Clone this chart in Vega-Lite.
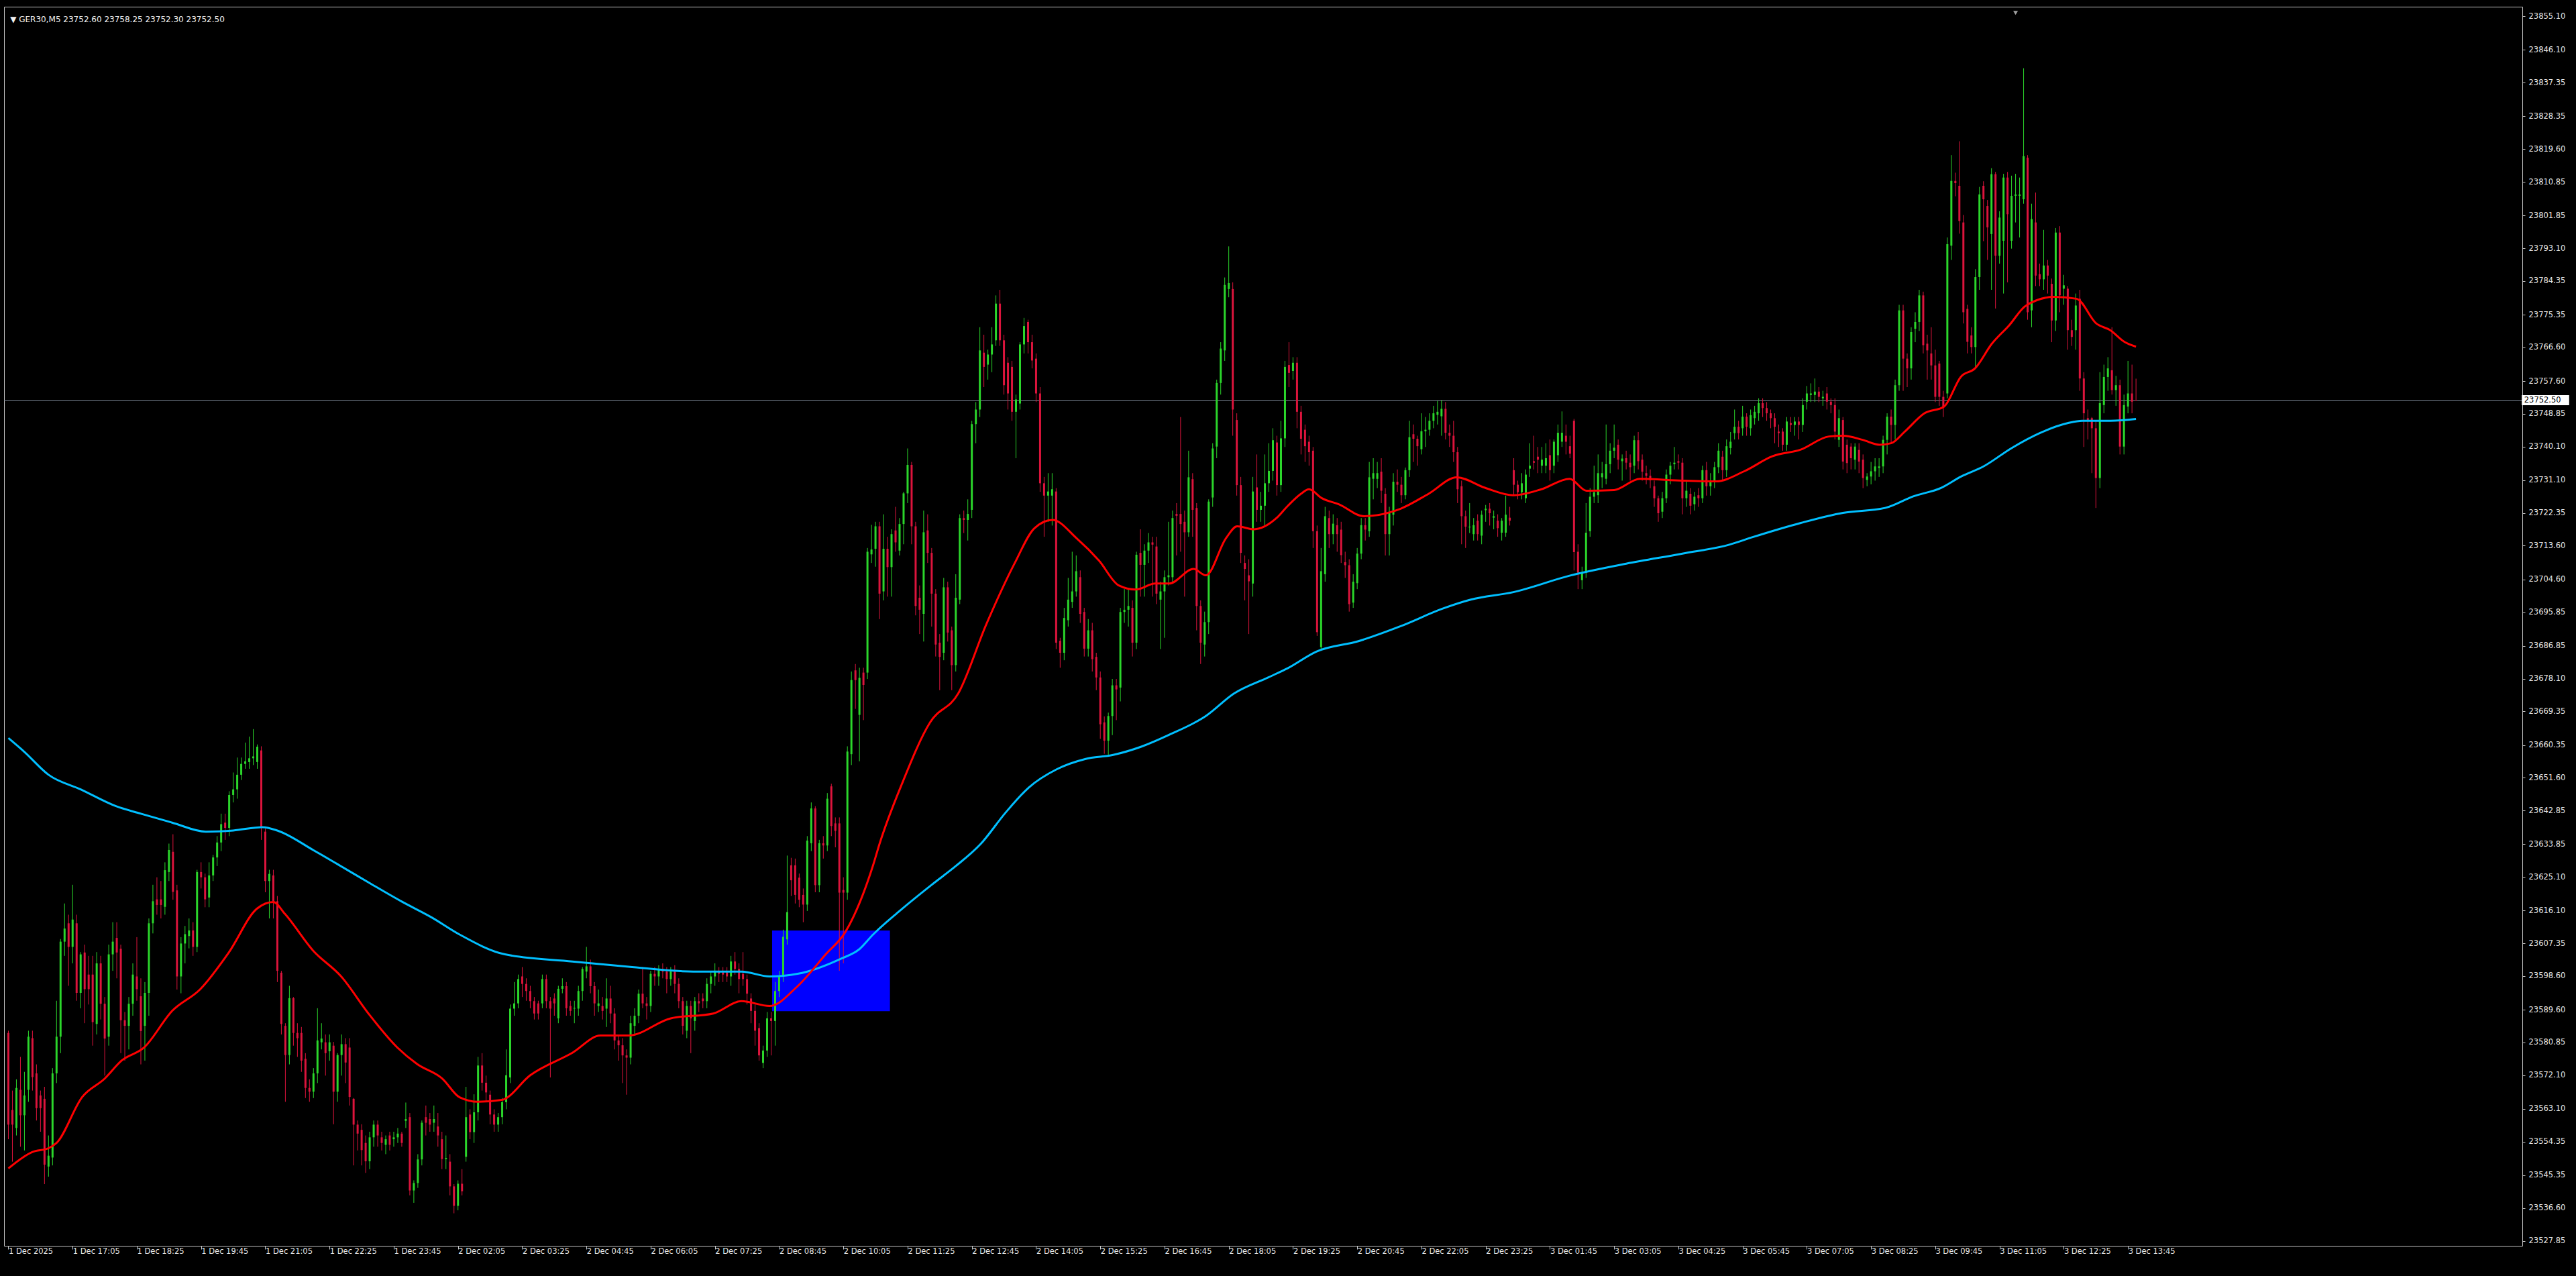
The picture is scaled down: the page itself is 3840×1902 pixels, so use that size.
{
"$schema":"https://vega.github.io/schema/vega-lite/v6.json",
"width":3754,"height":1847,
"autosize":{"type":"none"},
"padding":{"left":6,"top":10,"right":80,"bottom":45},
"background":"#000000",
"resolve":{"axis":{"x":"independent","y":"independent"}},
"config":{"view":{"fill":"#000000","stroke":"#C8C8C8","strokeWidth":1},"font":"DejaVu Sans",
"axis":{"grid":false,"domain":false,"title":null,"labelFont":"DejaVu Sans","labelFontSize":11.5,"labelColor":"#E6E6E6","tickColor":"#C8C8C8","labelOverlap":false,"labelFlush":false,"labelBound":false}},
"datasets":{
"bars":[
{"i":0,"o":23583.4,"h":23584,"l":23555,"c":23558.9},{"i":1,"o":23562.8,"h":23568,"l":23549,"c":23558.9},{"i":2,"o":23558,"h":23571,"l":23556,"c":23568.7},{"i":3,"o":23568.2,"h":23577,"l":23553,"c":23561.4},{"i":4,"o":23561.4,"h":23573,"l":23552,"c":23566.7},{"i":5,"o":23568.2,"h":23584,"l":23565,"c":23582.4},{"i":6,"o":23582,"h":23584,"l":23568,"c":23571.6},{"i":7,"o":23572.6,"h":23575,"l":23560,"c":23563.3},{"i":8,"o":23566.7,"h":23568,"l":23557,"c":23563.3},{"i":9,"o":23565.8,"h":23569,"l":23543,"c":23548.2},
{"i":10,"o":23547.7,"h":23556,"l":23545,"c":23550.6},{"i":11,"o":23550.1,"h":23574,"l":23548,"c":23572.6},{"i":12,"o":23572.6,"h":23592,"l":23570,"c":23582.4},{"i":13,"o":23582.4,"h":23608.5,"l":23578,"c":23607.8},{"i":14,"o":23607.8,"h":23618,"l":23604,"c":23611.3},{"i":15,"o":23612.7,"h":23615,"l":23596,"c":23606.4},{"i":16,"o":23606.4,"h":23623,"l":23602,"c":23613.7},{"i":17,"o":23612.7,"h":23615,"l":23592,"c":23594.1},{"i":18,"o":23594.1,"h":23605,"l":23590,"c":23604.4},{"i":19,"o":23604.9,"h":23607,"l":23586,"c":23595.1},
{"i":20,"o":23599,"h":23604,"l":23591,"c":23595.1},{"i":21,"o":23599,"h":23604,"l":23580,"c":23586.3},{"i":22,"o":23585.8,"h":23605,"l":23583,"c":23602},{"i":23,"o":23602,"h":23604,"l":23587,"c":23591.2},{"i":24,"o":23591.2,"h":23593,"l":23572,"c":23581.9},{"i":25,"o":23582.4,"h":23607,"l":23580,"c":23604.4},{"i":26,"o":23604.4,"h":23613,"l":23600,"c":23607.8},{"i":27,"o":23608.8,"h":23613,"l":23598,"c":23604.9},{"i":28,"o":23605.9,"h":23607,"l":23578,"c":23586.8},{"i":29,"o":23586.8,"h":23589,"l":23576,"c":23585.3},
{"i":30,"o":23585.3,"h":23593,"l":23579,"c":23591.2},{"i":31,"o":23591.2,"h":23602,"l":23588,"c":23599},{"i":32,"o":23598.5,"h":23609,"l":23592,"c":23595.1},{"i":33,"o":23593.2,"h":23598,"l":23575,"c":23583.9},{"i":34,"o":23585.3,"h":23597,"l":23576,"c":23594.1},{"i":35,"o":23594.1,"h":23614,"l":23588,"c":23612.7},{"i":36,"o":23612.7,"h":23623,"l":23610,"c":23618.6},{"i":37,"o":23619.1,"h":23625,"l":23615,"c":23617.6},{"i":38,"o":23619.1,"h":23624,"l":23614,"c":23617.6},{"i":39,"o":23617.1,"h":23629,"l":23615,"c":23626.9},
{"i":40,"o":23626.4,"h":23634,"l":23624,"c":23632.3},{"i":41,"o":23631.8,"h":23636.5,"l":23619,"c":23621.1},{"i":42,"o":23621.5,"h":23623,"l":23595,"c":23598.5},{"i":43,"o":23598.5,"h":23609,"l":23594,"c":23607.3},{"i":44,"o":23607.3,"h":23612,"l":23602,"c":23609.8},{"i":45,"o":23609.3,"h":23614,"l":23606,"c":23610.8},{"i":46,"o":23610.8,"h":23613,"l":23604,"c":23606.4},{"i":47,"o":23606.4,"h":23627,"l":23605,"c":23626.4},{"i":48,"o":23626.4,"h":23629,"l":23622,"c":23625},{"i":49,"o":23625,"h":23626,"l":23617,"c":23619.1},
{"i":50,"o":23619.6,"h":23629,"l":23617,"c":23625.5},{"i":51,"o":23625.5,"h":23631,"l":23624,"c":23630.3},{"i":52,"o":23630.3,"h":23636,"l":23628,"c":23634.3},{"i":53,"o":23634.3,"h":23642,"l":23632,"c":23639.2},{"i":54,"o":23639.6,"h":23642,"l":23635,"c":23638.2},{"i":55,"o":23638.2,"h":23648,"l":23636,"c":23647},{"i":56,"o":23647,"h":23653,"l":23645,"c":23648.5},{"i":57,"o":23648.5,"h":23657,"l":23646,"c":23652.4},{"i":58,"o":23652.4,"h":23657,"l":23651,"c":23655.3},{"i":59,"o":23655.3,"h":23661,"l":23654,"c":23656},
{"i":60,"o":23655.8,"h":23662.6,"l":23654,"c":23656.8},{"i":61,"o":23656.8,"h":23664.6,"l":23655,"c":23657.3},{"i":62,"o":23655.8,"h":23660.5,"l":23654,"c":23659.9},{"i":63,"o":23658.9,"h":23660,"l":23635,"c":23638.2},{"i":64,"o":23637.2,"h":23638,"l":23621,"c":23624},{"i":65,"o":23624,"h":23627,"l":23614,"c":23625.9},{"i":66,"o":23625.5,"h":23627,"l":23614,"c":23618.6},{"i":67,"o":23618.6,"h":23620,"l":23597,"c":23600},{"i":68,"o":23599.5,"h":23600,"l":23583,"c":23585.8},{"i":69,"o":23585.3,"h":23586,"l":23565,"c":23577.5},
{"i":70,"o":23577.5,"h":23596,"l":23575,"c":23592.7},{"i":71,"o":23592.7,"h":23593,"l":23580,"c":23583.4},{"i":72,"o":23583.4,"h":23586,"l":23577,"c":23582},{"i":73,"o":23583.4,"h":23585,"l":23573,"c":23576},{"i":74,"o":23576.5,"h":23578,"l":23566,"c":23568.7},{"i":75,"o":23568.7,"h":23571,"l":23565,"c":23567.7},{"i":76,"o":23567.7,"h":23574,"l":23566,"c":23572.6},{"i":77,"o":23572.6,"h":23590,"l":23570,"c":23581.4},{"i":78,"o":23580.9,"h":23586,"l":23579,"c":23581.9},{"i":79,"o":23580.9,"h":23583,"l":23572,"c":23578},
{"i":80,"o":23578.5,"h":23583,"l":23576,"c":23580.9},{"i":81,"o":23580,"h":23581,"l":23559,"c":23567.7},{"i":82,"o":23567.7,"h":23578,"l":23565,"c":23577.5},{"i":83,"o":23577.5,"h":23583,"l":23572,"c":23580.4},{"i":84,"o":23580.4,"h":23582,"l":23570,"c":23575.5},{"i":85,"o":23579.5,"h":23582,"l":23564,"c":23566.3},{"i":86,"o":23565.8,"h":23566,"l":23548,"c":23558.9},{"i":87,"o":23558.9,"h":23560,"l":23552,"c":23556.5},{"i":88,"o":23557.5,"h":23559,"l":23548,"c":23552.1},{"i":89,"o":23554,"h":23556,"l":23546,"c":23549.1},
{"i":90,"o":23549.1,"h":23557,"l":23547,"c":23555.5},{"i":91,"o":23555.5,"h":23560,"l":23553,"c":23558.9},{"i":92,"o":23558.9,"h":23560,"l":23553,"c":23556},{"i":93,"o":23555.5,"h":23557,"l":23552,"c":23554},{"i":94,"o":23553.5,"h":23556,"l":23551,"c":23555},{"i":95,"o":23556,"h":23557,"l":23552,"c":23553.5},{"i":96,"o":23555,"h":23557,"l":23553,"c":23555.5},{"i":97,"o":23555.5,"h":23558,"l":23554,"c":23556.5},{"i":98,"o":23556.5,"h":23557,"l":23553,"c":23554},{"i":99,"o":23559.9,"h":23564.8,"l":23558,"c":23560.4},
{"i":100,"o":23560.9,"h":23562,"l":23540,"c":23541.3},{"i":101,"o":23541.3,"h":23544,"l":23538,"c":23543.3},{"i":102,"o":23543.3,"h":23551,"l":23542,"c":23549.6},{"i":103,"o":23549.6,"h":23560,"l":23548,"c":23559.4},{"i":104,"o":23560.9,"h":23564,"l":23556,"c":23559.4},{"i":105,"o":23560.4,"h":23562,"l":23557,"c":23558.9},{"i":106,"o":23559.4,"h":23564,"l":23557,"c":23560.4},{"i":107,"o":23558.4,"h":23562,"l":23553,"c":23556},{"i":108,"o":23555,"h":23557,"l":23547,"c":23549.7},{"i":109,"o":23549.7,"h":23556,"l":23547,"c":23550},
{"i":110,"o":23549,"h":23551,"l":23540,"c":23542.4},{"i":111,"o":23542.4,"h":23543,"l":23535.2,"c":23537.2},{"i":112,"o":23537.2,"h":23544,"l":23536,"c":23543.1},{"i":113,"o":23543.1,"h":23547,"l":23540,"c":23541.1},{"i":114,"o":23550.3,"h":23569,"l":23549,"c":23560.9},{"i":115,"o":23561.6,"h":23563,"l":23555,"c":23556.9},{"i":116,"o":23556.9,"h":23567,"l":23554,"c":23562.2},{"i":117,"o":23562.2,"h":23577,"l":23560,"c":23574.7},{"i":118,"o":23574.7,"h":23578,"l":23568,"c":23570.1},{"i":119,"o":23570.1,"h":23572,"l":23565,"c":23567.5},
{"i":120,"o":23566.9,"h":23568,"l":23559,"c":23561.6},{"i":121,"o":23561.6,"h":23563,"l":23557,"c":23558.9},{"i":122,"o":23558.9,"h":23562,"l":23557,"c":23560.9},{"i":123,"o":23560.9,"h":23566,"l":23559,"c":23564.9},{"i":124,"o":23564.9,"h":23579,"l":23563,"c":23572.1},{"i":125,"o":23571.5,"h":23591,"l":23570,"c":23589.9},{"i":126,"o":23589.9,"h":23597,"l":23588,"c":23591.3},{"i":127,"o":23591.3,"h":23599,"l":23590,"c":23597.8},{"i":128,"o":23598.5,"h":23601,"l":23593,"c":23596.5},{"i":129,"o":23596.5,"h":23598,"l":23592,"c":23594.6},
{"i":130,"o":23594.6,"h":23596,"l":23590,"c":23591.9},{"i":131,"o":23591.9,"h":23593,"l":23587,"c":23588.6},{"i":132,"o":23591.3,"h":23592,"l":23587,"c":23588.6},{"i":133,"o":23591.3,"h":23599,"l":23590,"c":23597.8},{"i":134,"o":23597.8,"h":23599,"l":23590,"c":23591.9},{"i":135,"o":23591.9,"h":23593,"l":23571.5,"c":23589.9},{"i":136,"o":23592.6,"h":23594,"l":23588,"c":23591.3},{"i":137,"o":23587.3,"h":23596,"l":23586,"c":23595.2},{"i":138,"o":23595.2,"h":23598,"l":23594,"c":23595.9},{"i":139,"o":23595.9,"h":23597,"l":23588,"c":23590},
{"i":140,"o":23590.6,"h":23592,"l":23588,"c":23589.3},{"i":141,"o":23589.9,"h":23592,"l":23586,"c":23590.1},{"i":142,"o":23589.9,"h":23596,"l":23588,"c":23594.6},{"i":143,"o":23594.6,"h":23601,"l":23592,"c":23600.5},{"i":144,"o":23599.8,"h":23606.4,"l":23598,"c":23601.2},{"i":145,"o":23601.2,"h":23603,"l":23594,"c":23595.9},{"i":146,"o":23595.9,"h":23597,"l":23588,"c":23591.3},{"i":147,"o":23590.6,"h":23595,"l":23589,"c":23591.3},{"i":148,"o":23590.6,"h":23593,"l":23587,"c":23589.3},{"i":149,"o":23589.9,"h":23598,"l":23585,"c":23592.6},
{"i":150,"o":23592.6,"h":23596,"l":23586,"c":23588.6},{"i":151,"o":23588.6,"h":23590,"l":23579,"c":23581.4},{"i":152,"o":23581.4,"h":23583,"l":23576,"c":23580.1},{"i":153,"o":23580.1,"h":23582,"l":23570,"c":23577.4},{"i":154,"o":23577.4,"h":23579,"l":23566.9,"c":23576.8},{"i":155,"o":23576.8,"h":23588,"l":23575,"c":23586},{"i":156,"o":23585.3,"h":23590,"l":23583,"c":23588},{"i":157,"o":23588,"h":23595,"l":23586,"c":23593.9},{"i":158,"o":23593.9,"h":23601,"l":23590,"c":23591.3},{"i":159,"o":23591.3,"h":23593,"l":23587,"c":23590.6},
{"i":160,"o":23590.6,"h":23600,"l":23589,"c":23599.2},{"i":161,"o":23599.2,"h":23601,"l":23596,"c":23598.5},{"i":162,"o":23598.5,"h":23601.5,"l":23596,"c":23600.5},{"i":163,"o":23600.5,"h":23602,"l":23598,"c":23599.8},{"i":164,"o":23599.8,"h":23601,"l":23594,"c":23597.8},{"i":165,"o":23597.8,"h":23601,"l":23596,"c":23599.8},{"i":166,"o":23599.8,"h":23601.5,"l":23594,"c":23596.5},{"i":167,"o":23596.5,"h":23598,"l":23590,"c":23591.9},{"i":168,"o":23591.9,"h":23593,"l":23583,"c":23585.3},{"i":169,"o":23584,"h":23592,"l":23582,"c":23590.6},
{"i":170,"o":23590.6,"h":23592,"l":23578,"c":23587.3},{"i":171,"o":23586.6,"h":23593,"l":23584,"c":23591.9},{"i":172,"o":23591.9,"h":23594,"l":23589,"c":23591.3},{"i":173,"o":23592.6,"h":23594,"l":23590,"c":23591.9},{"i":174,"o":23591.9,"h":23598,"l":23590,"c":23596.5},{"i":175,"o":23596.5,"h":23600,"l":23594,"c":23598.5},{"i":176,"o":23598.5,"h":23602,"l":23596,"c":23599.8},{"i":177,"o":23599.8,"h":23601,"l":23597,"c":23599.2},{"i":178,"o":23599.6,"h":23601,"l":23597,"c":23599},{"i":179,"o":23599.6,"h":23601,"l":23597,"c":23598.5},
{"i":180,"o":23598.5,"h":23604,"l":23596,"c":23602.5},{"i":181,"o":23602.5,"h":23605,"l":23599,"c":23600.5},{"i":182,"o":23600.5,"h":23602,"l":23594,"c":23597.8},{"i":183,"o":23599.2,"h":23605,"l":23596,"c":23597.8},{"i":184,"o":23597.8,"h":23599,"l":23591,"c":23593.9},{"i":185,"o":23592.6,"h":23594,"l":23586,"c":23589.3},{"i":186,"o":23589.3,"h":23591,"l":23580,"c":23584},{"i":187,"o":23584.7,"h":23586,"l":23576,"c":23577.4},{"i":188,"o":23575.4,"h":23580,"l":23574,"c":23578.7},{"i":189,"o":23578.7,"h":23589,"l":23577,"c":23587.3},
{"i":190,"o":23587.3,"h":23589,"l":23577.4,"c":23586.6},{"i":191,"o":23586.6,"h":23597,"l":23580,"c":23594.6},{"i":192,"o":23594.6,"h":23600,"l":23593,"c":23598.5},{"i":193,"o":23598.5,"h":23611,"l":23597,"c":23609.1},{"i":194,"o":23608.4,"h":23630.8,"l":23607,"c":23615.7},{"i":195,"o":23628.2,"h":23630.2,"l":23620,"c":23624.2},{"i":196,"o":23628.2,"h":23630,"l":23618,"c":23620.3},{"i":197,"o":23624.9,"h":23626,"l":23617,"c":23619},{"i":198,"o":23620.3,"h":23622,"l":23613,"c":23617.7},{"i":199,"o":23617.7,"h":23636,"l":23616,"c":23634.8},
{"i":200,"o":23634.1,"h":23645,"l":23632,"c":23643.4},{"i":201,"o":23643.4,"h":23644,"l":23621,"c":23622.9},{"i":202,"o":23622.9,"h":23635,"l":23621,"c":23634.1},{"i":203,"o":23634.1,"h":23636,"l":23630,"c":23633.5},{"i":204,"o":23633.5,"h":23647.5,"l":23632,"c":23646},{"i":205,"o":23649.3,"h":23650,"l":23636,"c":23638.7},{"i":206,"o":23639.4,"h":23641,"l":23633,"c":23637.4},{"i":207,"o":23639.4,"h":23641,"l":23600,"c":23620.9},{"i":208,"o":23621.6,"h":23625,"l":23602,"c":23620.9},{"i":209,"o":23620.9,"h":23660,"l":23619,"c":23658.6},
{"i":210,"o":23657.9,"h":23680,"l":23655,"c":23677.7},{"i":211,"o":23680.3,"h":23682,"l":23670,"c":23677.7},{"i":212,"o":23668.4,"h":23681,"l":23656,"c":23678.3},{"i":213,"o":23679.7,"h":23681,"l":23667,"c":23676.4},{"i":214,"o":23679.7,"h":23713,"l":23678,"c":23712},{"i":215,"o":23711.3,"h":23719.2,"l":23709,"c":23712.6},{"i":216,"o":23712.8,"h":23720,"l":23708,"c":23718.8},{"i":217,"o":23718.8,"h":23720,"l":23694,"c":23700.8},{"i":218,"o":23701.4,"h":23722,"l":23699,"c":23712.8},{"i":219,"o":23712.8,"h":23716,"l":23700,"c":23707.9},
{"i":220,"o":23707.9,"h":23718,"l":23700,"c":23716.7},{"i":221,"o":23717.7,"h":23724,"l":23712,"c":23714.5},{"i":222,"o":23712.3,"h":23721,"l":23711,"c":23719.4},{"i":223,"o":23719.4,"h":23728,"l":23714,"c":23727.6},{"i":224,"o":23727.6,"h":23739.6,"l":23725,"c":23735.2},{"i":225,"o":23735.2,"h":23736,"l":23714,"c":23718.8},{"i":226,"o":23718.8,"h":23720,"l":23695,"c":23697.5},{"i":227,"o":23699.7,"h":23703,"l":23690,"c":23696.5},{"i":228,"o":23695.4,"h":23723,"l":23688,"c":23717.2},{"i":229,"o":23717.7,"h":23722,"l":23709,"c":23711.7},
{"i":230,"o":23711.7,"h":23713,"l":23692,"c":23700.8},{"i":231,"o":23700.8,"h":23702,"l":23684,"c":23687.2},{"i":232,"o":23687.7,"h":23690,"l":23675,"c":23683.9},{"i":233,"o":23685,"h":23705,"l":23683,"c":23702.5},{"i":234,"o":23702.5,"h":23704,"l":23688,"c":23690.4},{"i":235,"o":23691,"h":23692,"l":23675,"c":23681.7},{"i":236,"o":23681.7,"h":23706,"l":23680,"c":23699.7},{"i":237,"o":23699.2,"h":23722,"l":23698,"c":23721},{"i":238,"o":23721,"h":23723,"l":23717,"c":23720.5},{"i":239,"o":23720.5,"h":23726,"l":23715,"c":23722.1},
{"i":240,"o":23723.2,"h":23747,"l":23721,"c":23746.1},{"i":241,"o":23746.1,"h":23752,"l":23741,"c":23750},{"i":242,"o":23750,"h":23772,"l":23748,"c":23765.8},{"i":243,"o":23765.2,"h":23770,"l":23756,"c":23761.4},{"i":244,"o":23762,"h":23766,"l":23758,"c":23764.7},{"i":245,"o":23764.7,"h":23772,"l":23760,"c":23767.4},{"i":246,"o":23768.5,"h":23780.5,"l":23767,"c":23778.3},{"i":247,"o":23778.3,"h":23782,"l":23767,"c":23768.5},{"i":248,"o":23768.5,"h":23770,"l":23754,"c":23756.5},{"i":249,"o":23762.5,"h":23764,"l":23750,"c":23754.3},
{"i":250,"o":23761.4,"h":23763,"l":23747,"c":23749.4},{"i":251,"o":23749.4,"h":23754,"l":23737,"c":23752.7},{"i":252,"o":23751.6,"h":23768,"l":23750,"c":23767.4},{"i":253,"o":23767.4,"h":23774.5,"l":23765,"c":23772.3},{"i":254,"o":23773.4,"h":23774,"l":23765,"c":23768},{"i":255,"o":23768,"h":23770,"l":23761,"c":23763.1},{"i":256,"o":23763.6,"h":23765,"l":23752,"c":23754.3},{"i":257,"o":23754.3,"h":23756,"l":23728,"c":23730.3},{"i":258,"o":23730.3,"h":23732,"l":23716,"c":23727},{"i":259,"o":23727,"h":23733,"l":23720,"c":23728.1},
{"i":260,"o":23727,"h":23733,"l":23719,"c":23728.7},{"i":261,"o":23728.1,"h":23729,"l":23686,"c":23687.7},{"i":262,"o":23688.2,"h":23689,"l":23681,"c":23685},{"i":263,"o":23685,"h":23697,"l":23683,"c":23694.3},{"i":264,"o":23693.7,"h":23705,"l":23692,"c":23699.2},{"i":265,"o":23698.6,"h":23712,"l":23697,"c":23701.4},{"i":266,"o":23701.4,"h":23711,"l":23700,"c":23706.8},{"i":267,"o":23705.2,"h":23707,"l":23693,"c":23695.4},{"i":268,"o":23695.9,"h":23697,"l":23684,"c":23686.1},{"i":269,"o":23686.1,"h":23694,"l":23684,"c":23691},
{"i":270,"o":23691,"h":23693,"l":23680,"c":23683.3},{"i":271,"o":23683.9,"h":23685,"l":23675,"c":23678.4},{"i":272,"o":23678.4,"h":23680,"l":23662,"c":23665.9},{"i":273,"o":23666.4,"h":23668,"l":23658,"c":23661.5},{"i":274,"o":23661.5,"h":23669,"l":23657.7,"c":23668.1},{"i":275,"o":23668.1,"h":23678,"l":23663,"c":23676.3},{"i":276,"o":23676.3,"h":23678,"l":23667,"c":23675.2},{"i":277,"o":23675.7,"h":23697,"l":23672,"c":23695.9},{"i":278,"o":23695.9,"h":23702,"l":23693,"c":23696.5},{"i":279,"o":23696.5,"h":23702,"l":23692,"c":23697.5},
{"i":280,"o":23697,"h":23699,"l":23684,"c":23687.7},{"i":281,"o":23687.7,"h":23712,"l":23686,"c":23711.2},{"i":282,"o":23711.7,"h":23718,"l":23700,"c":23708.5},{"i":283,"o":23708.5,"h":23714,"l":23700,"c":23712.3},{"i":284,"o":23712.3,"h":23717,"l":23709,"c":23714.5},{"i":285,"o":23714.5,"h":23716,"l":23700,"c":23713.9},{"i":286,"o":23713.4,"h":23716,"l":23698,"c":23700.8},{"i":287,"o":23699.2,"h":23704,"l":23686,"c":23701.4},{"i":288,"o":23701.4,"h":23707,"l":23689,"c":23705.2},{"i":289,"o":23705.2,"h":23720,"l":23703,"c":23705.7},
{"i":290,"o":23705.2,"h":23723,"l":23704,"c":23721},{"i":291,"o":23722.1,"h":23725,"l":23711,"c":23721.6},{"i":292,"o":23722.1,"h":23748,"l":23712,"c":23719.4},{"i":293,"o":23720,"h":23723,"l":23700,"c":23717.2},{"i":294,"o":23717.2,"h":23739,"l":23716,"c":23731.9},{"i":295,"o":23731.4,"h":23733,"l":23716,"c":23723.2},{"i":296,"o":23723.7,"h":23725,"l":23691,"c":23697.5},{"i":297,"o":23697.5,"h":23699,"l":23682,"c":23687.7},{"i":298,"o":23687.2,"h":23696,"l":23684,"c":23693.2},{"i":299,"o":23693.2,"h":23726,"l":23690,"c":23725.4},
{"i":300,"o":23726.5,"h":23741,"l":23724,"c":23739.6},{"i":301,"o":23740.1,"h":23758,"l":23737,"c":23757.1},{"i":302,"o":23757.1,"h":23768,"l":23754,"c":23766.3},{"i":303,"o":23765.8,"h":23785.3,"l":23763,"c":23783.3},{"i":304,"o":23782.2,"h":23793.6,"l":23780,"c":23783.8},{"i":305,"o":23782.2,"h":23784,"l":23743,"c":23750},{"i":306,"o":23747.2,"h":23749,"l":23727,"c":23729.8},{"i":307,"o":23729.8,"h":23732,"l":23709,"c":23711.7},{"i":308,"o":23709,"h":23711,"l":23699,"c":23707.4},{"i":309,"o":23705.7,"h":23710,"l":23690,"c":23704.1},
{"i":310,"o":23703.5,"h":23732,"l":23700,"c":23728.1},{"i":311,"o":23729.2,"h":23738,"l":23720,"c":23723.2},{"i":312,"o":23723.2,"h":23728,"l":23720,"c":23724.3},{"i":313,"o":23724.3,"h":23738,"l":23719,"c":23730.3},{"i":314,"o":23730.3,"h":23741,"l":23728,"c":23733.6},{"i":315,"o":23733.6,"h":23745,"l":23731,"c":23741.8},{"i":316,"o":23741.2,"h":23743,"l":23727,"c":23729.8},{"i":317,"o":23729.8,"h":23747,"l":23728,"c":23742.3},{"i":318,"o":23742.3,"h":23763,"l":23740,"c":23761.4},{"i":319,"o":23761.9,"h":23768,"l":23756,"c":23759.8},
{"i":320,"o":23760.3,"h":23764,"l":23758,"c":23762.5},{"i":321,"o":23762.5,"h":23764,"l":23745,"c":23749.4},{"i":322,"o":23749.4,"h":23751,"l":23738,"c":23742.2},{"i":323,"o":23744.6,"h":23746,"l":23736,"c":23740.2},{"i":324,"o":23741.4,"h":23743,"l":23735,"c":23738.6},{"i":325,"o":23739,"h":23740,"l":23713,"c":23717.5},{"i":326,"o":23717.5,"h":23719,"l":23689.5,"c":23690.5},{"i":327,"o":23686.5,"h":23713,"l":23685.5,"c":23706.8},{"i":328,"o":23706,"h":23724,"l":23704,"c":23721.5},{"i":329,"o":23721,"h":23723,"l":23713,"c":23716.7},
{"i":330,"o":23716.7,"h":23722,"l":23714,"c":23719.5},{"i":331,"o":23719.1,"h":23721,"l":23712,"c":23716.7},{"i":332,"o":23717.9,"h":23720,"l":23709,"c":23711.1},{"i":333,"o":23709.2,"h":23712,"l":23705,"c":23708.4},{"i":334,"o":23708.4,"h":23710,"l":23696,"c":23698},{"i":335,"o":23698.4,"h":23706,"l":23697,"c":23704},{"i":336,"o":23703.6,"h":23713,"l":23702,"c":23711.5},{"i":337,"o":23711.5,"h":23721,"l":23710,"c":23719.1},{"i":338,"o":23719.1,"h":23721,"l":23715,"c":23717.9},{"i":339,"o":23717.5,"h":23736,"l":23716,"c":23731.9},
{"i":340,"o":23731.5,"h":23737,"l":23726,"c":23733},{"i":341,"o":23731.5,"h":23736,"l":23729,"c":23733},{"i":342,"o":23733.4,"h":23737,"l":23725,"c":23728.3},{"i":343,"o":23727.5,"h":23729,"l":23711,"c":23716.7},{"i":344,"o":23716.7,"h":23724,"l":23711,"c":23722.3},{"i":345,"o":23721.9,"h":23733,"l":23719,"c":23730.7},{"i":346,"o":23730.7,"h":23734,"l":23728,"c":23729.9},{"i":347,"o":23729.9,"h":23732,"l":23725,"c":23727.1},{"i":348,"o":23727.1,"h":23734.5,"l":23726,"c":23733.8},{"i":349,"o":23733.8,"h":23747,"l":23732,"c":23742.6},
{"i":350,"o":23743.4,"h":23746,"l":23736,"c":23742.2},{"i":351,"o":23742.2,"h":23743,"l":23735,"c":23740.2},{"i":352,"o":23739.4,"h":23749,"l":23738,"c":23744.2},{"i":353,"o":23744.2,"h":23748,"l":23740,"c":23744.6},{"i":354,"o":23744.6,"h":23749,"l":23743,"c":23747},{"i":355,"o":23747,"h":23751,"l":23745,"c":23749},{"i":356,"o":23748.6,"h":23752.3,"l":23746,"c":23749.4},{"i":357,"o":23748.2,"h":23752.5,"l":23743,"c":23750.2},{"i":358,"o":23750.2,"h":23752,"l":23742,"c":23743.8},{"i":359,"o":23743.8,"h":23746,"l":23740,"c":23743},
{"i":360,"o":23743,"h":23747,"l":23736,"c":23738.6},{"i":361,"o":23738.6,"h":23740,"l":23725,"c":23728.7},{"i":362,"o":23729.5,"h":23731,"l":23714,"c":23721.5},{"i":363,"o":23721.5,"h":23723,"l":23713,"c":23718.7},{"i":364,"o":23718.5,"h":23725,"l":23717,"c":23718.7},{"i":365,"o":23716.7,"h":23721,"l":23715,"c":23719.1},{"i":366,"o":23720.3,"h":23722,"l":23715,"c":23716.7},{"i":367,"o":23716.3,"h":23723,"l":23714,"c":23721.9},{"i":368,"o":23723.1,"h":23724.5,"l":23720,"c":23723.5},{"i":369,"o":23723.5,"h":23725,"l":23719,"c":23722.3},
{"i":370,"o":23721.1,"h":23723,"l":23718,"c":23721.5},{"i":371,"o":23720.3,"h":23722,"l":23716,"c":23718.3},{"i":372,"o":23717.1,"h":23721,"l":23715,"c":23720.3},{"i":373,"o":23717.1,"h":23727,"l":23716,"c":23721.9},{"i":374,"o":23721.1,"h":23724,"l":23719,"c":23720.3},{"i":375,"o":23733.8,"h":23737,"l":23727,"c":23729.9},{"i":376,"o":23729.9,"h":23731,"l":23726,"c":23727.9},{"i":377,"o":23727.9,"h":23733,"l":23726,"c":23730.3},{"i":378,"o":23726.3,"h":23734,"l":23725,"c":23732.6},{"i":379,"o":23734.2,"h":23741,"l":23732,"c":23735},
{"i":380,"o":23736.2,"h":23743,"l":23734,"c":23735.8},{"i":381,"o":23737.4,"h":23740,"l":23733,"c":23736.6},{"i":382,"o":23735,"h":23740,"l":23733,"c":23736.6},{"i":383,"o":23735,"h":23741,"l":23733,"c":23737},{"i":384,"o":23737.8,"h":23742,"l":23731,"c":23733.8},{"i":385,"o":23735,"h":23742,"l":23733,"c":23741.4},{"i":386,"o":23737.8,"h":23746,"l":23736,"c":23743.8},{"i":387,"o":23741.4,"h":23749.5,"l":23740,"c":23743.8},{"i":388,"o":23743,"h":23746,"l":23738,"c":23741.4},{"i":389,"o":23740.2,"h":23743,"l":23737,"c":23738.2},
{"i":390,"o":23747,"h":23747.5,"l":23707,"c":23711.9},{"i":391,"o":23712,"h":23714,"l":23702,"c":23706.4},{"i":392,"o":23704.4,"h":23708,"l":23702,"c":23706.4},{"i":393,"o":23706.4,"h":23725,"l":23705,"c":23717.1},{"i":394,"o":23717.5,"h":23729,"l":23716,"c":23726.7},{"i":395,"o":23726.7,"h":23735,"l":23725,"c":23727.9},{"i":396,"o":23727.1,"h":23738,"l":23725,"c":23733},{"i":397,"o":23731.9,"h":23736,"l":23729,"c":23733},{"i":398,"o":23731.5,"h":23746,"l":23730,"c":23735.4},{"i":399,"o":23735.4,"h":23741,"l":23733,"c":23739},
{"i":400,"o":23739,"h":23746,"l":23737,"c":23739.8},{"i":401,"o":23740.6,"h":23742,"l":23734,"c":23736.6},{"i":402,"o":23736.2,"h":23738,"l":23731,"c":23736.9},{"i":403,"o":23737,"h":23739,"l":23734,"c":23735.8},{"i":404,"o":23735.8,"h":23738,"l":23731,"c":23734.6},{"i":405,"o":23735,"h":23743,"l":23733,"c":23741.8},{"i":406,"o":23741.8,"h":23744,"l":23734,"c":23736.2},{"i":407,"o":23736.6,"h":23738,"l":23731,"c":23733.4},{"i":408,"o":23733,"h":23735,"l":23730,"c":23732.3},{"i":409,"o":23732.3,"h":23734,"l":23729,"c":23731.1},
{"i":410,"o":23729.5,"h":23731,"l":23724,"c":23726.3},{"i":411,"o":23726.3,"h":23727,"l":23720,"c":23722.3},{"i":412,"o":23722.7,"h":23728,"l":23721,"c":23726.3},{"i":413,"o":23726.3,"h":23734,"l":23725,"c":23732.6},{"i":414,"o":23732.6,"h":23736,"l":23730,"c":23735},{"i":415,"o":23735.4,"h":23740,"l":23734,"c":23735.8},{"i":416,"o":23736.2,"h":23738,"l":23734,"c":23735.8},{"i":417,"o":23735.8,"h":23737,"l":23722,"c":23726.3},{"i":418,"o":23726.3,"h":23731,"l":23724,"c":23728.3},{"i":419,"o":23727.5,"h":23729,"l":23722,"c":23724.3},
{"i":420,"o":23724.7,"h":23728,"l":23723,"c":23726.7},{"i":421,"o":23727.1,"h":23729,"l":23724,"c":23726.3},{"i":422,"o":23726.3,"h":23735,"l":23725,"c":23733.8},{"i":423,"o":23733.8,"h":23736,"l":23727,"c":23729.5},{"i":424,"o":23729.5,"h":23733,"l":23727,"c":23730.7},{"i":425,"o":23730.7,"h":23736,"l":23729,"c":23734.6},{"i":426,"o":23734.6,"h":23741,"l":23733,"c":23739},{"i":427,"o":23737.4,"h":23739,"l":23731,"c":23733.8},{"i":428,"o":23733.8,"h":23742,"l":23732,"c":23740.2},{"i":429,"o":23739.7,"h":23744,"l":23738,"c":23741.4},
{"i":430,"o":23743.7,"h":23750,"l":23742,"c":23745.4},{"i":431,"o":23745.4,"h":23747,"l":23742,"c":23743.7},{"i":432,"o":23745,"h":23751,"l":23743,"c":23748.1},{"i":433,"o":23748.1,"h":23749,"l":23743,"c":23745.4},{"i":434,"o":23745,"h":23750,"l":23743,"c":23748.5},{"i":435,"o":23747.7,"h":23751,"l":23746,"c":23749.4},{"i":436,"o":23749,"h":23753,"l":23747,"c":23751.7},{"i":437,"o":23751.7,"h":23753,"l":23748,"c":23750.4},{"i":438,"o":23750.4,"h":23752,"l":23747,"c":23749},{"i":439,"o":23749,"h":23750,"l":23745,"c":23747.7},
{"i":440,"o":23747.7,"h":23749,"l":23741,"c":23745.4},{"i":441,"o":23744.1,"h":23746,"l":23740,"c":23743.7},{"i":442,"o":23744.1,"h":23745,"l":23739,"c":23740.6},{"i":443,"o":23740.6,"h":23748,"l":23739,"c":23746.8},{"i":444,"o":23746.4,"h":23748,"l":23744,"c":23745.9},{"i":445,"o":23745.9,"h":23748,"l":23743,"c":23746.8},{"i":446,"o":23746.8,"h":23748,"l":23742,"c":23745.9},{"i":447,"o":23745.9,"h":23753,"l":23744,"c":23751.2},{"i":448,"o":23752.1,"h":23756.3,"l":23750,"c":23754.3},{"i":449,"o":23753.9,"h":23757,"l":23752,"c":23754.3},
{"i":450,"o":23753.9,"h":23758.3,"l":23752,"c":23754.8},{"i":451,"o":23754.8,"h":23756,"l":23752,"c":23753.4},{"i":452,"o":23753,"h":23755,"l":23751,"c":23753.4},{"i":453,"o":23754.3,"h":23756,"l":23750,"c":23752.1},{"i":454,"o":23752.1,"h":23753,"l":23749,"c":23751.2},{"i":455,"o":23751.2,"h":23753,"l":23742,"c":23744.1},{"i":456,"o":23741.9,"h":23750,"l":23740,"c":23747.7},{"i":457,"o":23747.2,"h":23748,"l":23734,"c":23736.1},{"i":458,"o":23740.6,"h":23742,"l":23733,"c":23735.7},{"i":459,"o":23740.1,"h":23741,"l":23734,"c":23737},
{"i":460,"o":23736.6,"h":23741,"l":23734,"c":23740.1},{"i":461,"o":23739.2,"h":23741,"l":23733,"c":23736.1},{"i":462,"o":23736.6,"h":23738,"l":23729,"c":23731.7},{"i":463,"o":23731.2,"h":23733,"l":23729.5,"c":23732.1},{"i":464,"o":23732.1,"h":23736,"l":23730,"c":23733.5},{"i":465,"o":23733.5,"h":23737,"l":23731,"c":23734.8},{"i":466,"o":23734.4,"h":23737,"l":23732,"c":23734.8},{"i":467,"o":23734.8,"h":23743,"l":23733,"c":23741.9},{"i":468,"o":23741.9,"h":23749,"l":23738,"c":23748.1},{"i":469,"o":23748.1,"h":23750,"l":23741,"c":23745.9},
{"i":470,"o":23745.9,"h":23758,"l":23742,"c":23756.5},{"i":471,"o":23756.5,"h":23778,"l":23755,"c":23776.5},{"i":472,"o":23776.5,"h":23778,"l":23755,"c":23763.6},{"i":473,"o":23763.6,"h":23765,"l":23756,"c":23761},{"i":474,"o":23761,"h":23772,"l":23758,"c":23770.7},{"i":475,"o":23771.6,"h":23776,"l":23768,"c":23773.4},{"i":476,"o":23773.4,"h":23782,"l":23771,"c":23780.5},{"i":477,"o":23780.5,"h":23781.5,"l":23765,"c":23767.2},{"i":478,"o":23767.6,"h":23770,"l":23758,"c":23765.8},{"i":479,"o":23765,"h":23772,"l":23758,"c":23761.8},
{"i":480,"o":23761.8,"h":23766,"l":23752,"c":23753.4},{"i":481,"o":23762.3,"h":23763,"l":23751,"c":23753.4},{"i":482,"o":23753.4,"h":23755,"l":23748,"c":23750.8},{"i":483,"o":23754.3,"h":23796,"l":23753,"c":23794.2},{"i":484,"o":23793.8,"h":23818,"l":23790,"c":23811.1},{"i":485,"o":23811.1,"h":23813.3,"l":23807,"c":23810.5},{"i":486,"o":23809.8,"h":23821.7,"l":23797,"c":23800.4},{"i":487,"o":23800,"h":23802,"l":23773,"c":23776},{"i":488,"o":23776.9,"h":23778,"l":23765,"c":23768.1},{"i":489,"o":23769.8,"h":23772,"l":23765,"c":23766.7},
{"i":490,"o":23766.7,"h":23787.5,"l":23761,"c":23785.4},{"i":491,"o":23785.4,"h":23809.5,"l":23782,"c":23807.5},{"i":492,"o":23809.8,"h":23811,"l":23795,"c":23806.2},{"i":493,"o":23804.4,"h":23806,"l":23790,"c":23798.7},{"i":494,"o":23796.9,"h":23814.5,"l":23782,"c":23812.9},{"i":495,"o":23812.9,"h":23813.5,"l":23777,"c":23791.1},{"i":496,"o":23791.1,"h":23803,"l":23789,"c":23801.3},{"i":497,"o":23795.1,"h":23813,"l":23781,"c":23812},{"i":498,"o":23812,"h":23813.5,"l":23784,"c":23802.2},{"i":499,"o":23795.1,"h":23812.5,"l":23793,"c":23807.1},
{"i":500,"o":23807.1,"h":23813,"l":23800,"c":23807.5},{"i":501,"o":23807.1,"h":23812,"l":23796,"c":23807.5},{"i":502,"o":23806.2,"h":23841.2,"l":23805,"c":23817.7},{"i":503,"o":23817.3,"h":23818,"l":23774,"c":23776},{"i":504,"o":23776.5,"h":23805,"l":23772,"c":23800.9},{"i":505,"o":23800,"h":23808,"l":23783,"c":23785.8},{"i":506,"o":23786.2,"h":23789,"l":23783,"c":23784.8},{"i":507,"o":23784.8,"h":23798,"l":23782,"c":23788.5},{"i":508,"o":23788.5,"h":23790,"l":23781,"c":23785.8},{"i":509,"o":23783.6,"h":23785,"l":23768,"c":23773.8},
{"i":510,"o":23773.8,"h":23798.5,"l":23771,"c":23797.3},{"i":511,"o":23797.3,"h":23799,"l":23776,"c":23780.5},{"i":512,"o":23782.3,"h":23786,"l":23778,"c":23783.2},{"i":513,"o":23782.3,"h":23783,"l":23766,"c":23771.2},{"i":514,"o":23771.2,"h":23774,"l":23767,"c":23769.4},{"i":515,"o":23771.2,"h":23781,"l":23766,"c":23777.8},{"i":516,"o":23779.6,"h":23782,"l":23755,"c":23758.3},{"i":517,"o":23758.3,"h":23760,"l":23740,"c":23749},{"i":518,"o":23747.7,"h":23750,"l":23742,"c":23747.2},{"i":519,"o":23747.7,"h":23748,"l":23733,"c":23745},
{"i":520,"o":23745,"h":23747,"l":23723.7,"c":23731.7},{"i":521,"o":23731.7,"h":23760,"l":23729,"c":23751.7},{"i":522,"o":23751.2,"h":23762,"l":23749,"c":23758.7},{"i":523,"o":23758.7,"h":23764,"l":23755,"c":23761},{"i":524,"o":23760.5,"h":23772,"l":23754,"c":23755.2},{"i":525,"o":23755.2,"h":23759,"l":23751,"c":23756.5},{"i":526,"o":23756.5,"h":23758,"l":23738,"c":23740.1},{"i":527,"o":23740.1,"h":23754,"l":23738,"c":23751.2},{"i":528,"o":23750.8,"h":23763,"l":23749,"c":23754.3},{"i":529,"o":23754.3,"h":23762,"l":23749,"c":23752.1},
{"i":530,"o":23752.6,"h":23758.25,"l":23752.3,"c":23752.5}
],
"ma_fast":[
{"i":0,"v":23547.2},{"i":6,"v":23551.6},{"i":10,"v":23552.6},{"i":12,"v":23554},{"i":18.4,"v":23566.3},{"i":24,"v":23571.2},{"i":28.2,"v":23576},{"i":33.8,"v":23579.5},{"i":40.8,"v":23589.3},{"i":47.8,"v":23595.1},{"i":54.9,"v":23604.9},{"i":61.9,"v":23616.6},{"i":66,"v":23618.4},{"i":68.9,"v":23615.2},{"i":75.9,"v":23605.4},{"i":82.9,"v":23598.5},{"i":89.9,"v":23588.3},{"i":96.9,"v":23579.5},{"i":101.8,"v":23575.1},{"i":108.1,"v":23571.2},{"i":112.4,"v":23566.2},{"i":117,"v":23565},{"i":122.9,"v":23565.5},{"i":130,"v":23572.1},{"i":140.5,"v":23578.1},{"i":147.5,"v":23582.7},{"i":154.5,"v":23582.7},{"i":165,"v":23587.3},{"i":175.6,"v":23588.6},{"i":182.6,"v":23591.9},{"i":189.6,"v":23590.6},{"i":196.6,"v":23595.9},{"i":203.6,"v":23604.4},{"i":208.5,"v":23610.4},{"i":215.4,"v":23628.2},{"i":217,"v":23633.9},{"i":222.6,"v":23650},{"i":229.6,"v":23666.4},{"i":236.6,"v":23674.1},{"i":243.6,"v":23692.6},{"i":250.7,"v":23709},{"i":255.6,"v":23718.3},{"i":260.1,"v":23720.5},{"i":266.1,"v":23715.6},{"i":271.7,"v":23709.6},{"i":276.6,"v":23703},{"i":280.8,"v":23701.9},{"i":285.7,"v":23703.5},{"i":289.2,"v":23703.5},{"i":295.2,"v":23707.4},{"i":298.3,"v":23705.7},{"i":303.3,"v":23715.6},{"i":306.1,"v":23718.8},{"i":310.3,"v":23718},{"i":315.9,"v":23721},{"i":318.75,"v":23724.3},{"i":322,"v":23727.5},{"i":324,"v":23728.7},{"i":327.2,"v":23726.3},{"i":331.4,"v":23724.7},{"i":337.7,"v":23721.5},{"i":346.8,"v":23723.5},{"i":353.8,"v":23727.5},{"i":360.8,"v":23731.9},{"i":367.8,"v":23729.1},{"i":374.9,"v":23727.1},{"i":381.9,"v":23728.7},{"i":388.9,"v":23731.5},{"i":393.1,"v":23728.3},{"i":400,"v":23728.5},{"i":406.4,"v":23731.5},{"i":417,"v":23731},{"i":425.4,"v":23730.8},{"i":432.4,"v":23733.5},{"i":439.4,"v":23737.5},{"i":446.5,"v":23739.3},{"i":453.5,"v":23742.8},{"i":457,"v":23743},{"i":461.9,"v":23741.9},{"i":466.1,"v":23740.6},{"i":469,"v":23741},{"i":472.4,"v":23744.1},{"i":477.3,"v":23749},{"i":482.2,"v":23750.8},{"i":486.4,"v":23758.8},{"i":489.9,"v":23761},{"i":494.1,"v":23767.6},{"i":498.4,"v":23772.5},{"i":502.6,"v":23777.8},{"i":509.6,"v":23780.1},{"i":515.2,"v":23779.6},{"i":520.1,"v":23773},{"i":523.6,"v":23771.2},{"i":527.1,"v":23768.1},{"i":530,"v":23766.8}
],
"ma_slow":[
{"i":0,"v":23662.2},{"i":4,"v":23658.5},{"i":10,"v":23652.4},{"i":18,"v":23648.5},{"i":26.8,"v":23644},{"i":33,"v":23642},{"i":40.8,"v":23639.6},{"i":49.2,"v":23637.2},{"i":56,"v":23637.5},{"i":63.3,"v":23638.4},{"i":67,"v":23637.5},{"i":75.9,"v":23632.3},{"i":82,"v":23628.5},{"i":89.9,"v":23623.5},{"i":98,"v":23618.5},{"i":105.4,"v":23614.3},{"i":112.4,"v":23609.7},{"i":123.7,"v":23604.4},{"i":140.5,"v":23602.5},{"i":154.5,"v":23601.1},{"i":170.6,"v":23599.8},{"i":182.6,"v":23599.8},{"i":189.6,"v":23598.5},{"i":196.6,"v":23599.2},{"i":207.1,"v":23603.1},{"i":212,"v":23605.8},{"i":215.4,"v":23609.7},{"i":222,"v":23616},{"i":230,"v":23623},{"i":236,"v":23628},{"i":242.2,"v":23633.9},{"i":248.5,"v":23642.4},{"i":254.2,"v":23649},{"i":261.2,"v":23653.9},{"i":268.2,"v":23656.6},{"i":275.2,"v":23657.7},{"i":282.2,"v":23659.9},{"i":289.2,"v":23663.1},{"i":298.3,"v":23668.1},{"i":305.3,"v":23674.1},{"i":313.8,"v":23678.4},{"i":318.75,"v":23680.9},{"i":325.8,"v":23685.3},{"i":336.3,"v":23688.1},{"i":346.8,"v":23692.1},{"i":357.3,"v":23696.8},{"i":364.3,"v":23699.2},{"i":374.9,"v":23701.2},{"i":388.9,"v":23705.6},{"i":403,"v":23708.8},{"i":417,"v":23711.5},{"i":428.7,"v":23713.9},{"i":434.5,"v":23715.9},{"i":446.5,"v":23719.7},{"i":457,"v":23722.4},{"i":467.5,"v":23723.7},{"i":474.5,"v":23726.8},{"i":481.5,"v":23729.1},{"i":486.4,"v":23732.1},{"i":492,"v":23734.8},{"i":499,"v":23739.7},{"i":506,"v":23743.7},{"i":513.1,"v":23746.4},{"i":516.6,"v":23747},{"i":523.6,"v":23747},{"i":530,"v":23747.5}
]
},
"layer":[
{"data":{"values":[{"from":190.25,"to":219.6,"lo":23589.2,"hi":23610.8}]},
 "mark":{"type":"rect","color":"#0000FF"},
 "encoding":{
  "x":{"field":"from","type":"quantitative","scale":{"domain":[-0.25,625.4],"nice":false,"zero":false},"axis":null},
  "x2":{"field":"to"},
  "y":{"field":"lo","type":"quantitative","scale":{"domain":[23527.41,23856.76],"nice":false,"zero":false},"axis":null},
  "y2":{"field":"hi"}}},
{"data":{"values":[{"price":23752.5}]},
 "mark":{"type":"rule","color":"#7F8C9C","strokeWidth":1},
 "encoding":{"y":{"field":"price","type":"quantitative","scale":{"domain":[23527.41,23856.76],"nice":false,"zero":false},"axis":null}}},
{"data":{"name":"bars"},
 "mark":{"type":"rule","strokeWidth":1},
 "encoding":{
  "x":{"field":"i","type":"quantitative","scale":{"domain":[-0.25,625.4],"nice":false,"zero":false},
   "axis":{"orient":"bottom","values":[0,16,32,48,64,80,96,112,128,144,160,176,192,208,224,240,256,272,288,304,320,336,352,368,384,400,416,432,448,464,480,496,512,528],
    "labelExpr":"['1 Dec 2025','1 Dec 17:05','1 Dec 18:25','1 Dec 19:45','1 Dec 21:05','1 Dec 22:25','1 Dec 23:45','2 Dec 02:05','2 Dec 03:25','2 Dec 04:45','2 Dec 06:05','2 Dec 07:25','2 Dec 08:45','2 Dec 10:05','2 Dec 11:25','2 Dec 12:45','2 Dec 14:05','2 Dec 15:25','2 Dec 16:45','2 Dec 18:05','2 Dec 19:25','2 Dec 20:45','2 Dec 22:05','2 Dec 23:25','3 Dec 01:45','3 Dec 03:05','3 Dec 04:25','3 Dec 05:45','3 Dec 07:05','3 Dec 08:25','3 Dec 09:45','3 Dec 11:05','3 Dec 12:25','3 Dec 13:45'][round(datum.value/16)]",
    "labelAlign":"left","labelBaseline":"middle","tickSize":5,"labelPadding":3,"labelDx":0}},
  "y":{"field":"l","type":"quantitative","scale":{"domain":[23527.41,23856.76],"nice":false,"zero":false},
   "axis":{"orient":"right","values":[23855.10,23846.10,23837.35,23828.35,23819.60,23810.85,23801.85,23793.10,23784.35,23775.35,23766.60,23757.60,23748.85,23740.10,23731.10,23722.35,23713.60,23704.60,23695.85,23686.85,23678.10,23669.35,23660.35,23651.60,23642.85,23633.85,23625.10,23616.10,23607.35,23598.60,23589.60,23580.85,23572.10,23563.10,23554.35,23545.35,23536.60,23527.85],
    "format":".2f","labelAlign":"left","labelBaseline":"middle","tickSize":4,"labelPadding":5}},
  "y2":{"field":"h"},
  "color":{"condition":{"test":"datum.c < datum.o","value":"#DC143C"},"value":"#2BD62B"}}},
{"data":{"name":"bars"},
 "mark":{"type":"bar","size":3},
 "encoding":{
  "x":{"field":"i","type":"quantitative","scale":{"domain":[-0.25,625.4],"nice":false,"zero":false},"axis":null},
  "y":{"field":"o","type":"quantitative","scale":{"domain":[23527.41,23856.76],"nice":false,"zero":false},"axis":null},
  "y2":{"field":"c"},
  "color":{"condition":{"test":"datum.c < datum.o","value":"#DC143C"},"value":"#2BD62B"}}},
{"data":{"name":"ma_slow"},
 "mark":{"type":"line","color":"#00BFFF","strokeWidth":3,"interpolate":"monotone"},
 "encoding":{
  "x":{"field":"i","type":"quantitative","scale":{"domain":[-0.25,625.4],"nice":false,"zero":false},"axis":null},
  "y":{"field":"v","type":"quantitative","scale":{"domain":[23527.41,23856.76],"nice":false,"zero":false},"axis":null}}},
{"data":{"name":"ma_fast"},
 "mark":{"type":"line","color":"#FF0000","strokeWidth":3,"interpolate":"monotone"},
 "encoding":{
  "x":{"field":"i","type":"quantitative","scale":{"domain":[-0.25,625.4],"nice":false,"zero":false},"axis":null},
  "y":{"field":"v","type":"quantitative","scale":{"domain":[23527.41,23856.76],"nice":false,"zero":false},"axis":null}}},
{"data":{"values":[{"price":23752.5,"txt":"23752.50"}]},
 "mark":{"type":"bar","color":"#FFFFFF","size":15,"orient":"horizontal"},
 "encoding":{
  "x":{"datum":626.1,"type":"quantitative","scale":{"domain":[-0.25,625.4],"nice":false,"zero":false},"axis":null},
  "x2":{"datum":637.9},
  "y":{"field":"price","type":"quantitative","scale":{"domain":[23527.41,23856.76],"nice":false,"zero":false},"axis":null}}},
{"data":{"values":[{"price":23752.5,"txt":"23752.50"}]},
 "mark":{"type":"text","color":"#000000","align":"left","baseline":"middle","fontSize":11.5,"font":"DejaVu Sans"},
 "encoding":{
  "x":{"datum":626.7,"type":"quantitative","scale":{"domain":[-0.25,625.4],"nice":false,"zero":false},"axis":null},
  "y":{"field":"price","type":"quantitative","scale":{"domain":[23527.41,23856.76],"nice":false,"zero":false},"axis":null},
  "text":{"field":"txt"}}},
{"data":{"values":[{"label":"▼  GER30,M5  23752.60 23758.25 23752.30 23752.50"}]},
 "mark":{"type":"text","color":"#F0F0F0","align":"left","baseline":"middle","fontSize":12,"font":"DejaVu Sans"},
 "encoding":{
  "x":{"datum":0.45,"type":"quantitative","scale":{"domain":[-0.25,625.4],"nice":false,"zero":false},"axis":null},
  "y":{"datum":23854.2,"type":"quantitative","scale":{"domain":[23527.41,23856.76],"nice":false,"zero":false},"axis":null},
  "text":{"field":"label"}}},
{"data":{"values":[{"mark":"shift"}]},
 "mark":{"type":"point","shape":"triangle-down","filled":true,"color":"#A0A0A0","size":50,"opacity":1},
 "encoding":{
  "x":{"datum":500,"type":"quantitative","scale":{"domain":[-0.25,625.4],"nice":false,"zero":false},"axis":null},
  "y":{"datum":23856.0,"type":"quantitative","scale":{"domain":[23527.41,23856.76],"nice":false,"zero":false},"axis":null}}}
]
}
